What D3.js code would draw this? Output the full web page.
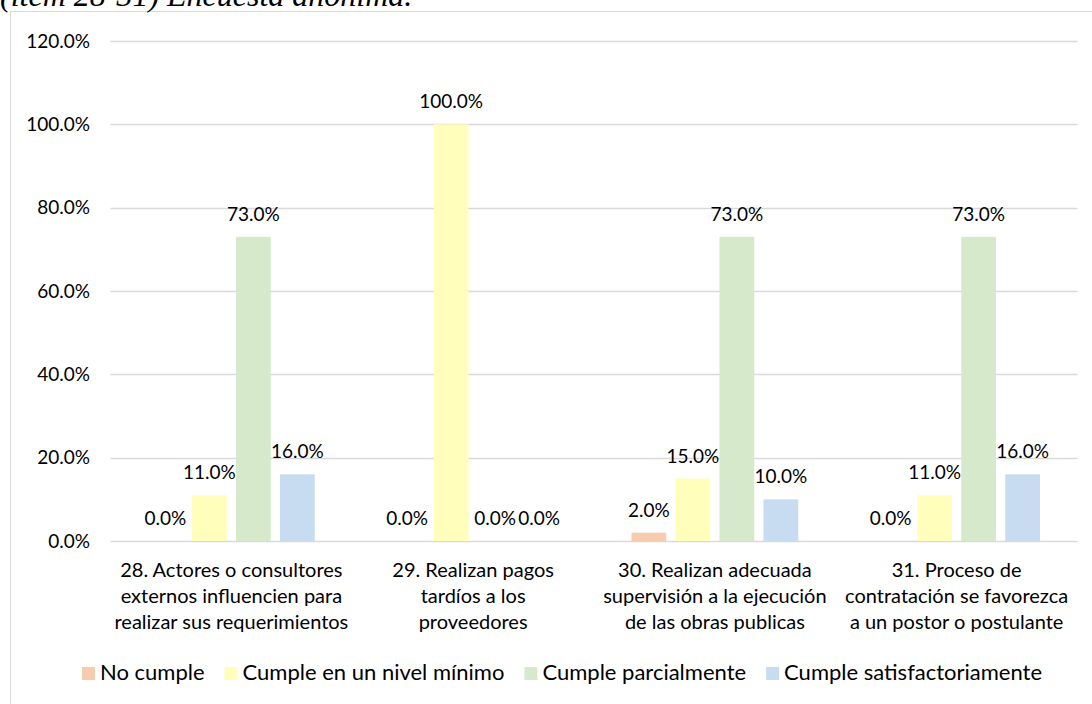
<!DOCTYPE html>
<html>
<head>
<meta charset="utf-8">
<script src="https://cdn.jsdelivr.net/npm/d3@7"></script>
<style>
  html, body { margin: 0; padding: 0; background: #ffffff; }
  svg { display: block; }
  text { font-family: Lato, "Open Sans", sans-serif; fill: #000; }
</style>
</head>
<body>
<svg id="chart" width="1092" height="704"></svg>
<script>
// Survey items (each label split into its display lines)
const categories = [
  "28. Actores o consultores externos influencien para realizar sus requerimientos",
  "29. Realizan pagos tardíos a los proveedores",
  "30. Realizan adecuada supervisión a la ejecución de las obras publicas",
  "31. Proceso de contratación se favorezca a un postor o postulante"
];
const categoryLines = [
  ["28. Actores o consultores", "externos influencien para", "realizar sus requerimientos"],
  ["29. Realizan pagos", "tardíos a los", "proveedores"],
  ["30. Realizan adecuada", "supervisión a la ejecución", "de las obras publicas"],
  ["31. Proceso de", "contratación se favorezca", "a un postor o postulante"]
];

const seriesNames = ["No cumple", "Cumple en un nivel mínimo", "Cumple parcialmente", "Cumple satisfactoriamente"];
const seriesColors = ["#F8CBAD", "#FFFFBB", "#D6E9CB", "#C7DCF0"];

// Share of responses per item, one array per answer level
const noCumple        = [0.00, 0.00, 0.02, 0.00];
const nivelMinimo     = [0.11, 1.00, 0.15, 0.11];
const parcialmente    = [0.73, 0.00, 0.73, 0.73];
const satisfactorio   = [0.16, 0.00, 0.10, 0.16];
const seriesValues = [noCumple, nivelMinimo, parcialmente, satisfactorio];

const yTicks = [0, 0.2, 0.4, 0.6, 0.8, 1.0, 1.2];
const titleText = "(ítem 28-31) Encuesta anónima.";

const svg = d3.select("#chart");
const fmt = d3.format(".1%");

// Outer chart frame
svg.append("rect")
  .attr("x", 10.5).attr("y", 11.5)
  .attr("width", 1200).attr("height", 800)
  .attr("fill", "#fff").attr("stroke", "#d9d9d9").attr("stroke-width", 1);

// Caption above the frame
svg.append("text")
  .attr("x", 0).attr("y", 6)
  .style("font-family", "'Liberation Serif', 'DejaVu Serif', serif")
  .style("font-style", "italic")
  .style("font-size", "32px")
  .text(titleText);

const plotLeft = 110.5, plotRight = 1077.5, plotTop = 41, plotBottom = 541;

const y = d3.scaleLinear().domain([0, 1.2]).range([plotBottom, plotTop]);
const x0 = d3.scaleBand().domain(categories).range([plotLeft, plotRight]).padding(0);
const x1 = d3.scaleBand().domain(seriesNames).range([0, x0.bandwidth()])
  .paddingInner(0.21).paddingOuter(0.852);

// Horizontal gridlines
svg.append("g").selectAll("line").data(yTicks).join("line")
  .attr("x1", plotLeft).attr("x2", plotRight)
  .attr("y1", d => Math.round(y(d)) + 0.5).attr("y2", d => Math.round(y(d)) + 0.5)
  .attr("stroke", "#d9d9d9").attr("stroke-width", 1.3);

// Y axis labels
const yAxis = d3.axisLeft(y).tickValues(yTicks).tickFormat(fmt).tickSize(0).tickPadding(0);
const yg = svg.append("g").attr("transform", `translate(90,0)`).call(yAxis);
yg.select(".domain").remove();
yg.selectAll("text").style("font-size", "19px").style("font-family", "Lato, sans-serif").attr("fill", "#000");

// Bars and their value labels
const groups = svg.append("g").selectAll("g").data(categories).join("g")
  .attr("transform", d => `translate(${x0(d)},0)`);

groups.each(function(cat, ci) {
  const g = d3.select(this);
  const rows = seriesNames.map((s, si) => ({ s, si, v: seriesValues[si][ci] }));
  g.selectAll("rect").data(rows).join("rect")
    .attr("x", d => x1(d.s))
    .attr("width", x1.bandwidth())
    .attr("y", d => y(d.v))
    .attr("height", d => plotBottom - y(d.v))
    .attr("fill", d => seriesColors[d.si]);
  g.selectAll("text.val").data(rows).join("text")
    .attr("class", "val")
    .attr("x", d => x1(d.s) + x1.bandwidth() / 2)
    .attr("y", d => y(d.v) - 16)
    .attr("text-anchor", "middle")
    .style("font-size", "19px")
    .text(d => fmt(d.v));
});

// Category labels under the axis
const catLabels = svg.append("g").selectAll("text").data(categories).join("text")
  .attr("text-anchor", "middle")
  .attr("x", d => x0(d) + x0.bandwidth() / 2)
  .attr("y", 577)
  .style("font-size", "20px");
catLabels.each(function(d, i) {
  d3.select(this).selectAll("tspan").data(categoryLines[i]).join("tspan")
    .attr("x", x0(d) + x0.bandwidth() / 2)
    .attr("dy", (t, j) => j === 0 ? 0 : 26)
    .text(t => t);
});

// Legend, centred under the plot
const legend = svg.append("g");
const items = legend.selectAll("g").data(seriesNames).join("g");
items.append("rect").attr("width", 13).attr("height", 13).attr("y", 667)
  .attr("fill", (d, i) => seriesColors[i]);
items.append("text").attr("x", 18).attr("y", 680).style("font-size", "22px").text(d => d);
const widths = [];
items.each(function() {
  widths.push(d3.select(this).select("text").node().getComputedTextLength());
});
const itemGap = 20;
const total = d3.sum(widths) + seriesNames.length * 18 + (seriesNames.length - 1) * itemGap;
const legendCenter = 562;
let cursor = legendCenter - total / 2;
items.each(function(d, i) {
  d3.select(this).attr("transform", `translate(${cursor},0)`);
  cursor += 18 + widths[i] + itemGap;
});
</script>
</body>
</html>
